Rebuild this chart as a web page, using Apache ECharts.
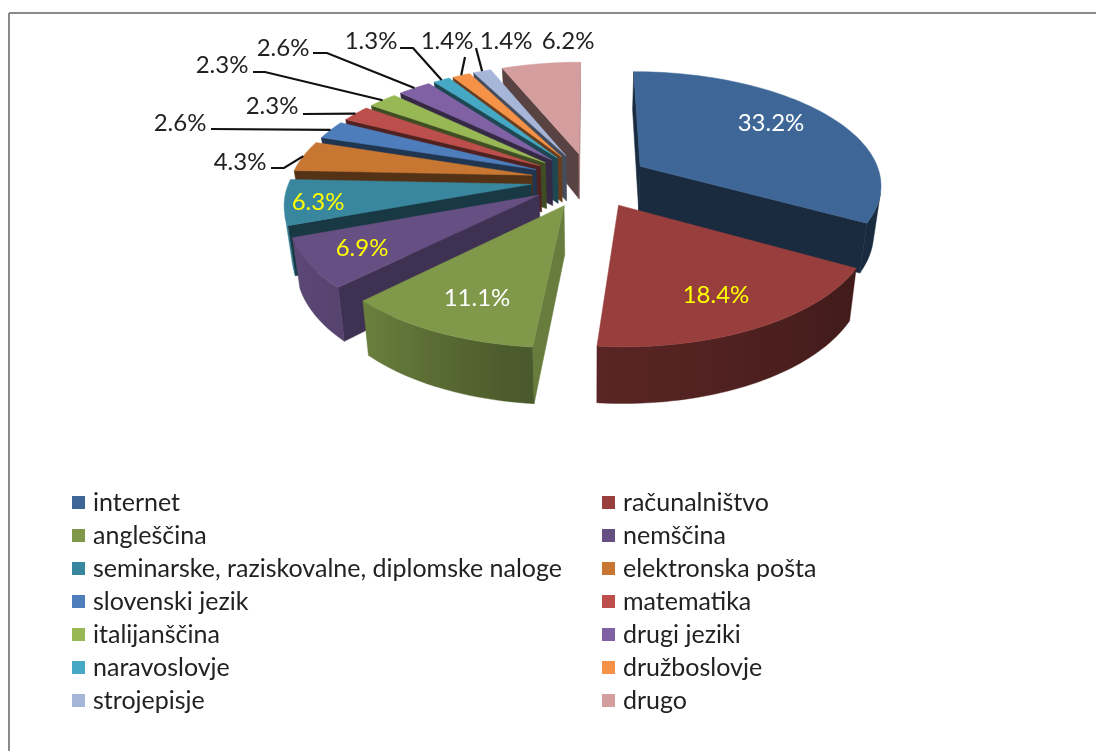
<!DOCTYPE html>
<html><head><meta charset="utf-8">
<style>html,body{margin:0;padding:0;background:#fff}#c{width:1096px;height:751px}</style>
<script src="https://cdn.jsdelivr.net/npm/echarts@6/dist/echarts.min.js"></script>
</head><body><div id="c"></div>
<script>
const categories = ['internet','računalništvo','angleščina','nemščina','seminarske, raziskovalne, diplomske naloge','elektronska pošta','slovenski jezik','matematika','italijanščina','drugi jeziki','naravoslovje','družboslovje','strojepisje','drugo'];
const values = [33.2,18.4,11.1,6.9,6.3,4.3,2.6,2.3,2.3,2.6,1.3,1.4,1.4,6.2];
const colors = ['#3e6797','#983f3d','#7f984a','#664f82','#39869f','#c87733','#4d7ebb','#bc4e4b','#98b855','#8062a4','#45a8c4','#f59247','#a5b6d8','#d59e9e'];

// label placement, styling and projection
const FONT = 'Lato, sans-serif';
const LABEL_SIZE = 24, LEGEND_SIZE = 25;
const P = {cx:590, cy:180, rx:241.5, a:112.4, b:0.148, e:0.245, shrink:0.975};
const labelPos = [[771,123,'#ffffff'],[716,295,'#ffff00'],[477,298,'#ffffff'],[362,248,'#ffff00'],[318,202,'#ffff00'],
  [240,162,'#222'],[180,123,'#222'],[272,106,'#222'],[222,65,'#222'],[283,48,'#222'],[371,41,'#222'],[447,41,'#222'],[506,41,'#222'],[568,41,'#222']];
const leaderStart = {5:[[271,168],[284,168]],6:[[211,129]],7:[[303,114]],8:[[253,72],[265,72]],9:[[313,53],[327,53]],10:[[400,48],[413,48]],11:[[465,57]],12:[[476,48]]};

const total = values.reduce((s,v)=>s+v,0);
let acc = 0;
const slices = values.map(v=>{const a0=acc/total*2*Math.PI; acc+=v; const a1=acc/total*2*Math.PI; return {a0,a1,m:(a0+a1)/2};});

function proj(X,Y,bottom){
  const w=1/(1-P.b*Y);
  let x=P.cx+P.rx*X*w, y=P.cy+P.a*Y*w;
  if(bottom){ x=P.cx+(x-P.cx)*P.shrink; y+=47+8*Y; }
  return [x,y];
}
function shade(hex,f){
  const n=parseInt(hex.slice(1),16);
  const c=[n>>16,(n>>8)&255,n&255].map(v=>Math.round(v*f));
  return 'rgb('+c.join(',')+')';
}
function lerpTable(t,x){
  if(x<=t[0][0])return t[0][1];
  for(let i=1;i<t.length;i++){ if(x<=t[i][0]){const r=(x-t[i-1][0])/(t[i][0]-t[i-1][0]);return t[i-1][1]+r*(t[i][1]-t[i-1][1]);}}
  return t[t.length-1][1];
}
const outerShade=[[100,.42],[120,.42],[180,.58],[190,.6],[225,.85],[250,.92],[280,.6]];
const cutShade=[[90,.82],[100,.82],[135,.62],[160,.42],[300,.42]];

function renderSlice(i,api){
  const s=slices[i], col=colors[i];
  const ex=P.e*Math.sin(s.m), ey=-P.e*Math.cos(s.m);
  const world=[[ex,ey]];
  const n=Math.max(2,Math.ceil((s.a1-s.a0)/0.03));
  for(let k=0;k<=n;k++){const t=s.a0+(s.a1-s.a0)*k/n; world.push([ex+Math.sin(t),ey-Math.cos(t)]);}
  const top=world.map(p=>proj(p[0],p[1],false)), bot=world.map(p=>proj(p[0],p[1],true));
  const children=[];
  const L=world.length;
  const arcTop=[],arcBot=[],arcAng=[];
  for(let k=0;k<L;k++){
    const j=(k+1)%L;
    const dx=top[j][0]-top[k][0], dy=top[j][1]-top[k][1];
    const sx=(bot[k][0]+bot[j][0]-top[k][0]-top[j][0])/2, sy=(bot[k][1]+bot[j][1]-top[k][1]-top[j][1])/2;
    if(dy*sx-dx*sy<=0) continue;
    if(k===0||k===L-1){
      const f=k===0?lerpTable(cutShade,(s.a0/Math.PI*180-90+360)%360):lerpTable(cutShade,(s.a1/Math.PI*180+90)%360);
      const fill=shade(col,f);
      children.push({type:'polygon',shape:{points:[top[k],top[j],bot[j],bot[k]]},style:{fill,stroke:fill,lineWidth:.6}});
    } else {
      if(!arcTop.length){arcTop.push(top[k]);arcBot.push(bot[k]);arcAng.push(s.a0+(s.a1-s.a0)*(k-1)/n);}
      arcTop.push(top[j]);arcBot.push(bot[j]);arcAng.push(s.a0+(s.a1-s.a0)*(j-1)/n);
    }
  }
  if(arcTop.length){
    const xs=arcTop.concat(arcBot).map(p=>p[0]);
    const minX=Math.min.apply(null,xs),maxX=Math.max.apply(null,xs);
    const stops=arcTop.map((p,k)=>({offset:Math.min(1,Math.max(0,(p[0]-minX)/(maxX-minX))),color:shade(col,lerpTable(outerShade,arcAng[k]/Math.PI*180))})).sort((a,b)=>a.offset-b.offset);
    const mid=shade(col,lerpTable(outerShade,arcAng[arcAng.length>>1]/Math.PI*180));
    children.push({type:'polygon',shape:{points:arcTop.concat(arcBot.slice().reverse())},
      style:{fill:{type:'linear',x:0,y:0,x2:1,y2:0,colorStops:stops},stroke:mid,lineWidth:.4}});
  }
  children.push({type:'polygon',shape:{points:top},style:{fill:col,stroke:col,lineWidth:.5}});
  if(leaderStart[i]){
    const oX=ex+Math.sin(s.m), oY=ey-Math.cos(s.m);
    const pts=leaderStart[i].concat([proj(oX,oY,false)]);
    children.push({type:'polyline',shape:{points:pts},style:{fill:null,stroke:'#111',lineWidth:2.2}});
  }
  const lp=labelPos[i];
  children.push({type:'text',x:lp[0],y:lp[1],style:{text:values[i].toFixed(1)+'%',fill:lp[2],font:LABEL_SIZE+'px '+FONT,textAlign:'center',textVerticalAlign:'middle'}});
  return {type:'group',children};
}
const order=slices.map((s,i)=>[i,-Math.cos(s.m)]).sort((p,q)=>p[1]-q[1]).map(p=>p[0]);
const rank={}; order.forEach((i,r)=>rank[i]=r);

const series=categories.map((name,i)=>({
  type:'custom',name,coordinateSystem:'none',silent:true,z:2+rank[i],
  itemStyle:{color:colors[i]},
  data:[[values[i]]],
  renderItem:(params,api)=>renderSlice(i,api)
}));
const legendBase={orient:'vertical',icon:'rect',itemWidth:13,itemHeight:13,itemGap:8,selectedMode:false,top:490,padding:0,
  textStyle:{fontFamily:FONT,fontSize:LEGEND_SIZE,color:'#222',padding:[0,0,0,3]}};
const chart=echarts.init(document.getElementById('c'),null,{renderer:'canvas'});
chart.setOption({
  animation:false,backgroundColor:'#fff',
  legend:[
    Object.assign({},legendBase,{left:72,data:categories.filter((c,i)=>i%2===0)}),
    Object.assign({},legendBase,{left:602,data:categories.filter((c,i)=>i%2===1)})
  ],
  graphic:[
    {type:'line',shape:{x1:9,y1:13,x2:1096,y2:13},style:{stroke:'#8a8a8a',lineWidth:2},silent:true},
    {type:'line',shape:{x1:9,y1:13,x2:9,y2:751},style:{stroke:'#8a8a8a',lineWidth:2},silent:true}
  ],
  series
});
</script></body></html>
